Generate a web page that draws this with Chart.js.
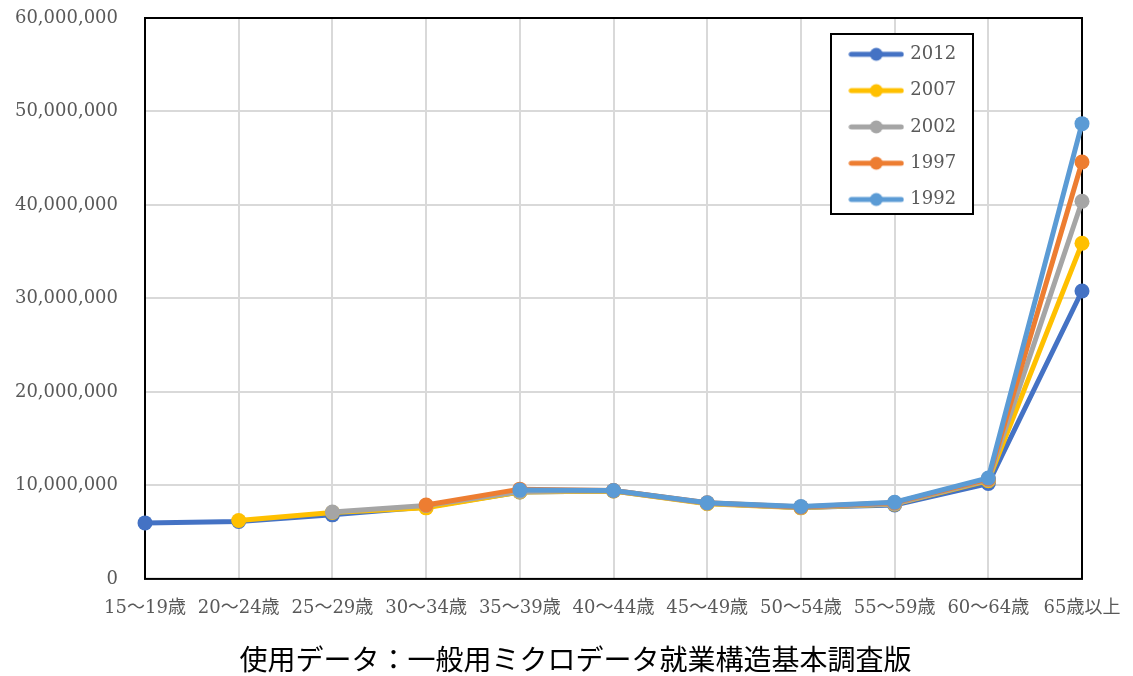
<!DOCTYPE html>
<html>
<head>
<meta charset="utf-8">
<script src="https://cdn.jsdelivr.net/npm/chart.js@4/dist/chart.umd.min.js"></script>
<style>
  body { margin: 0; background: #fff; }
  #wrap { width: 1133px; height: 676px; }
</style>
</head>
<body>
<div id="wrap"><canvas id="chart" width="1133" height="676"></canvas></div>
<script>
// age groups (x axis)
const ages = ['15～19歳', '20～24歳', '25～29歳', '30～34歳', '35～39歳', '40～44歳',
              '45～49歳', '50～54歳', '55～59歳', '60～64歳', '65歳以上'];
const years = ['2012', '2007', '2002', '1997', '1992'];
const colors = ['#4472C4', '#FFC000', '#A5A5A5', '#ED7D31', '#5B9BD5'];

// values (cohorts, older surveys start later)
const v2012 = [5990000, 6150000, 6850000, 7700000, 9300000, 9400000, 8100000, 7650000, 7900000, 10200000, 30800000];
const v2007 = [null, 6240000, 7100000, 7600000, 9300000, 9400000, 8050000, 7600000, 8000000, 10500000, 35900000];
const v2002 = [null, null, 7160000, 7850000, 9350000, 9450000, 8100000, 7650000, 8050000, 10600000, 40400000];
const v1997 = [null, null, null, 7900000, 9600000, 9450000, 8150000, 7700000, 8150000, 10700000, 44600000];
const v1992 = [null, null, null, null, 9500000, 9450000, 8150000, 7750000, 8200000, 10800000, 48700000];
const series = [v2012, v2007, v2002, v1997, v1992];

const yTicksMax = 60000000;
const yStep = 10000000;
const caption = '使用データ：一般用ミクロデータ就業構造基本調査版';

const serif = '"DejaVu Serif", "Noto Sans CJK JP", serif';

// legend symbol: line with a dot in the middle
function legendMark(color) {
    const c = document.createElement('canvas');
    c.width = 56; c.height = 16;
    const g = c.getContext('2d');
    g.strokeStyle = color;
    g.lineWidth = 5;
    g.lineCap = 'round';
    g.beginPath(); g.moveTo(3, 8); g.lineTo(53, 8); g.stroke();
    g.fillStyle = color;
    g.beginPath(); g.arc(28, 8, 6.5, 0, Math.PI * 2); g.fill();
    return c;
}
const marks = colors.map(legendMark);

// frame round the plot, legend box inside it, caption nudged right
const framePlugin = {
    id: 'frame',
    afterLayout(chart) {
        if (chart.titleBlock) chart.titleBlock.left = 18;
        const lg = chart.legend;
        if (!lg) return;
        const w = lg.width, h = lg.height;
        lg.left = 833; lg.top = 27;
        lg.right = lg.left + w; lg.bottom = lg.top + h;
        if (!lg._wrapped) {
            const orig = lg.draw;
            lg.draw = function() {
                const ctx = chart.ctx;
                ctx.save();
                ctx.fillStyle = '#fff';
                ctx.fillRect(831, 34, 142, 180);
                ctx.strokeStyle = '#000';
                ctx.lineWidth = 2;
                ctx.strokeRect(831, 34, 142, 180);
                ctx.restore();
                orig.apply(this, arguments);
            };
            lg._wrapped = true;
        }
    },
    beforeDatasetsDraw(chart) {
        const a = chart.chartArea;
        const ctx = chart.ctx;
        ctx.save();
        ctx.strokeStyle = '#000';
        ctx.lineWidth = 2;
        ctx.strokeRect(a.left, a.top, a.right - a.left, a.bottom - a.top);
        ctx.restore();
    }
};

new Chart(document.getElementById('chart'), {
    type: 'line',
    data: {
        labels: ages,
        datasets: series.map((d, i) => ({
            label: years[i],
            data: d,
            borderColor: colors[i],
            backgroundColor: colors[i],
            pointBackgroundColor: colors[i],
            pointBorderColor: colors[i],
            borderWidth: 5,
            pointRadius: 7.5,
            pointBorderWidth: 0,
            tension: 0,
            clip: false,
            order: series.length - i
        }))
    },
    options: {
        responsive: false,
        animation: false,
        layout: { padding: { left: 0, right: 0, top: 18, bottom: 0 } },
        scales: {
            x: {
                offset: false,
                grid: { color: '#d9d9d9', lineWidth: 2, drawTicks: false },
                border: { display: false },
                ticks: {
                    autoSkip: false, maxRotation: 0, minRotation: 0, padding: 19,
                    color: '#595959', font: { family: serif, size: 18 }
                },
                afterFit(scale) {
                    scale.height = 50;
                    scale.paddingLeft = 0;
                    scale.paddingRight = 51;
                }
            },
            y: {
                min: 0, max: yTicksMax,
                grid: { color: '#d9d9d9', lineWidth: 2, drawTicks: false },
                border: { display: false },
                ticks: {
                    stepSize: yStep, padding: 27,
                    color: '#595959', font: { family: serif, size: 18 },
                    callback: v => v.toLocaleString('en-US')
                },
                afterFit(scale) {
                    scale.width = 145;
                    scale.paddingTop = 0;
                    scale.paddingBottom = 0;
                }
            }
        },
        plugins: {
            legend: {
                position: 'chartArea',
                align: 'start',
                labels: {
                    usePointStyle: true,
                    pointStyleWidth: 50,
                    padding: 18.3,
                    color: '#595959',
                    font: { family: serif, size: 18 },
                    sort: (a, b) => a.datasetIndex - b.datasetIndex,
                    generateLabels(chart) {
                        const items = Chart.defaults.plugins.legend.labels.generateLabels(chart);
                        items.forEach(it => { it.pointStyle = marks[it.datasetIndex]; });
                        return items;
                    }
                }
            },
            title: {
                display: true,
                position: 'bottom',
                text: caption,
                color: '#000',
                font: { family: '"Noto Sans CJK JP", sans-serif', size: 28, weight: 'normal' },
                padding: { top: 13.5, bottom: 0 }
            },
            tooltip: { enabled: false }
        }
    },
    plugins: [framePlugin]
});
</script>
</body>
</html>
